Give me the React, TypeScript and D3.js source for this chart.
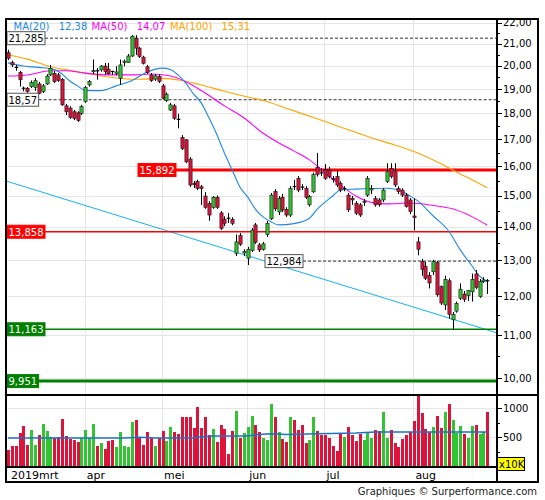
import React from 'react';
import * as d3 from 'd3';

// koersen (dagelijks, 4 mrt - 28 aug 2019)
const opens = [
  20.61, 20.16, 19.95, 19.73, 19.05, 19.05, 19.12, 19.09, 19.23, 18.91, 19.23, 19.62, 19.69, 19.62, 19.43, 18.32, 18.23, 18.08, 18.04, 18.02,
  18.49, 19.19, 19.76, 19.8, 19.84, 20.01, 19.87, 19.77, 19.68, 19.48, 20.17, 20.16, 20.46, 21.28, 20.82, 20.41, 19.98, 19.62, 19.44, 19.55,
  19.15, 18.53, 18.15, 18.32, 17.78, 17.08, 16.99, 16.28, 15.43, 15.49, 15.31, 15.0, 14.76, 14.63, 14.96, 14.45, 14.24, 14.28, 14.24, 13.21,
  13.74, 13.22, 13.07, 13.3, 14.07, 13.46, 13.33, 13.77, 14.26, 15.15, 14.48, 14.96, 14.56, 14.38, 15.32, 15.6, 15.3, 15.25, 14.71, 15.14,
  15.98, 15.79, 15.91, 15.89, 15.6, 15.66, 15.43, 15.22, 15.03, 14.92, 14.76, 14.71, 14.78, 15.03, 15.2, 14.92, 14.87, 14.87, 15.49, 15.95,
  15.83, 15.25, 15.2, 15.03, 14.87, 14.35, 13.55, 12.97, 12.83, 12.58, 12.68, 12.94, 12.27, 11.78, 12.43, 11.4, 11.62, 11.96, 12.07, 12.03,
  12.13, 12.62, 12.0, 12.41, 12.43,
];
const highs = [
  20.74, 20.25, 20.06, 19.8, 19.12, 19.1, 19.38, 19.48, 19.32, 19.23, 19.65, 20.06, 19.79, 19.7, 19.48, 18.4, 18.3, 18.15, 18.1, 18.36,
  19.15, 19.4, 20.3, 19.92, 20.06, 20.15, 20.15, 19.8, 20.0, 20.3, 20.3, 20.55, 21.43, 21.43, 20.88, 20.47, 20.06, 19.7, 19.66, 19.64,
  19.23, 18.87, 18.44, 18.4, 18.0, 17.17, 17.02, 16.35, 15.51, 15.55, 15.37, 15.13, 14.83, 15.0, 15.02, 14.51, 14.34, 14.45, 14.31, 13.77,
  13.82, 13.33, 13.4, 13.97, 14.13, 13.52, 13.55, 14.19, 15.1, 15.23, 15.0, 15.07, 14.63, 15.33, 15.55, 15.68, 15.4, 15.33, 15.03, 15.8,
  16.5, 15.95, 16.1, 16.0, 15.68, 15.89, 15.5, 15.33, 15.1, 15.0, 14.83, 14.77, 14.9, 15.68, 15.37, 15.0, 14.93, 15.26, 16.13, 16.13,
  16.13, 15.33, 15.26, 15.1, 14.93, 14.92, 13.7, 13.05, 12.96, 12.67, 13.02, 12.99, 12.3, 12.57, 12.5, 11.6, 11.87, 12.36, 12.15, 12.18,
  12.63, 12.73, 12.48, 12.53, 12.48,
];
const lows = [
  20.28, 19.96, 19.8, 19.12, 18.92, 18.86, 19.06, 18.94, 18.8, 18.85, 19.19, 19.57, 19.27, 19.32, 18.32, 17.95, 17.8, 17.75, 17.68, 17.95,
  18.44, 19.12, 19.66, 19.41, 19.76, 19.62, 19.62, 19.62, 19.6, 19.19, 20.0, 20.15, 20.41, 20.51, 20.37, 20.08, 19.66, 19.32, 19.36, 19.27,
  18.58, 18.48, 18.11, 17.76, 17.43, 16.61, 16.13, 15.3, 15.27, 15.2, 14.7, 14.58, 14.2, 14.58, 14.58, 13.91, 14.03, 14.13, 14.06, 13.13,
  13.43, 13.13, 12.87, 13.25, 13.49, 13.25, 13.29, 13.7, 14.22, 14.51, 14.38, 14.48, 14.32, 14.32, 15.2, 15.13, 15.2, 14.9, 14.65, 15.1,
  15.66, 15.68, 15.55, 15.6, 15.45, 15.3, 15.13, 15.16, 14.48, 14.71, 14.38, 14.32, 14.68, 14.97, 15.07, 14.65, 14.65, 14.8, 15.44, 15.6,
  15.3, 15.07, 14.97, 14.62, 14.41, 13.9, 13.15, 12.57, 12.45, 12.22, 12.59, 12.0, 11.78, 11.65, 11.43, 11.16, 11.58, 11.91, 11.86, 11.89,
  11.87, 12.2, 11.97, 12.37, 12.07,
];
const closes = [
  20.36, 20.06, 19.93, 19.41, 19.0, 18.91, 19.29, 19.37, 18.84, 19.15, 19.57, 19.91, 19.33, 19.38, 18.36, 18.08, 17.86, 17.82, 17.73, 18.29,
  19.09, 19.33, 19.82, 19.78, 20.01, 19.77, 19.67, 19.72, 19.75, 20.06, 20.23, 20.46, 21.38, 20.82, 20.44, 20.13, 19.72, 19.38, 19.58, 19.34,
  18.63, 18.8, 18.36, 17.82, 17.74, 16.67, 16.18, 15.37, 15.38, 15.26, 15.25, 14.63, 14.38, 14.96, 14.63, 13.96, 14.12, 14.25, 14.12, 13.55,
  13.48, 13.27, 13.33, 13.91, 13.54, 13.31, 13.49, 14.12, 15.03, 14.58, 14.92, 14.54, 14.38, 15.26, 15.28, 15.2, 15.27, 14.96, 14.98, 15.73,
  15.74, 15.75, 15.6, 15.66, 15.55, 15.37, 15.2, 15.25, 14.55, 14.87, 14.44, 14.38, 14.82, 15.6, 15.25, 14.71, 14.71, 15.2, 15.83, 15.66,
  15.37, 15.15, 15.03, 14.66, 14.49, 14.3, 13.33, 12.75, 12.5, 12.37, 12.97, 12.05, 11.83, 12.47, 11.54, 11.54, 11.82, 12.2, 11.93, 12.16,
  12.47, 12.25, 12.41, 12.45, 12.4,
];
// volume in x10K
const volumes = [
  298, 361, 361, 574, 695, 379, 626, 379, 540, 729, 609, 505, 494, 505, 821, 522, 476, 453, 419, 494,
  626, 494, 729, 367, 413, 316, 436, 453, 350, 591, 367, 339, 764, 804, 505, 384, 591, 494, 367, 494,
  609, 442, 678, 591, 563, 850, 850, 850, 660, 1022, 660, 850, 540, 649, 419, 712, 649, 229, 609, 953,
  488, 574, 678, 867, 712, 591, 488, 453, 1074, 850, 591, 471, 425, 850, 798, 626, 724, 402, 453, 850,
  609, 540, 540, 494, 367, 281, 580, 505, 678, 551, 436, 557, 453, 580, 488, 637, 609, 942, 488, 626,
  407, 350, 471, 540, 597, 780, 1218, 919, 649, 591, 678, 867, 666, 936, 1074, 804, 580, 700, 557, 494,
  700, 712, 563, 591, 936,
];

const ma20: [number, number][] = [
  [0, 20.15], [4, 20.01], [8, 19.95], [12, 19.86], [14, 19.66], [16, 19.36], [18, 19.15], [20, 18.96], [24, 18.95],
  [28, 19.15], [32, 19.37], [36, 19.75], [40, 19.92], [42, 19.86], [44, 19.62], [46, 19.27], [48, 18.81], [50, 18.44],
  [52, 17.84], [54, 17.2], [56, 16.5], [58, 15.89], [60, 15.3], [62, 14.97], [64, 14.57], [66, 14.32], [68, 14.17],
  [70, 14.07], [74, 14.11], [78, 14.28], [80, 14.57], [84, 15.0], [86, 15.2], [90, 15.23], [94, 15.25], [98, 15.26],
  [101, 15.2], [104, 15.0], [106, 14.84], [110, 14.35], [114, 13.88], [117, 13.31], [120, 12.85], [122, 12.56], [124, 12.41],
];
const ma50: [number, number][] = [
  [0, 19.57], [5, 19.62], [11, 19.8], [15, 19.8], [20, 19.7], [26, 19.62], [33, 19.62], [37, 19.66], [42, 19.57],
  [46, 19.33], [51, 18.85], [56, 18.32], [61, 17.84], [66, 17.24], [70, 16.88], [74, 16.57], [78, 16.25], [82, 15.8],
  [86, 15.37], [90, 15.0], [94, 14.79], [98, 14.74], [104, 14.77], [110, 14.69], [115, 14.58], [120, 14.33], [124, 14.06],
];
const ma100: [number, number][] = [
  [0, 20.52], [5, 20.32], [11, 19.98], [16, 19.82], [20, 19.7], [26, 19.53], [33, 19.43], [40, 19.47], [45, 19.38],
  [50, 19.19], [56, 18.92], [62, 18.68], [67, 18.5], [72, 18.22], [80, 17.8], [86, 17.48], [94, 17.07], [100, 16.8],
  [106, 16.5], [112, 16.11], [116, 15.82], [120, 15.55], [124, 15.28],
];
const volMA: [number, number][] = [
  [0, 494], [30, 494], [34, 510], [38, 494], [48, 494], [49, 510], [53, 528], [62, 528], [64, 551], [68, 568],
  [72, 557], [80, 570], [90, 580], [95, 597], [124, 597],
];
const trendLine: [number, number][] = [[-0.3, 15.5], [126.6, 11.07]];

const maLegend = [
  { name: 'MA(20)', value: '12,38', color: '#1e88e5' },
  { name: 'MA(50)', value: '14,07', color: '#ff00ff' },
  { name: 'MA(100)', value: '15,31', color: '#ffa500' },
];

const monthTicks = [
  { i: 0, label: '2019mrt' }, { i: 20, label: 'apr' }, { i: 40, label: 'mei' },
  { i: 62, label: 'jun' }, { i: 82, label: 'jul' }, { i: 105, label: 'aug' },
];

const levelValues = [21.285, 18.57, 15.892, 13.858, 12.984, 11.163, 9.951];
const levelLabels = ['21,285', '18,57', '15,892', '13,858', '12,984', '11,163', '9,951'];

const priceTicks = d3.range(10, 23);
const volTicks = [500, 1000];

const W = 545;
const H = 500;
const L = 6;
const R = 497;
const OUT_R = 538;
const TOP = 19;
const P_BOT = 395;
const V_BOT = 467;
const D_BOT = 482;

const RED = '#dc143c';
const GREEN = '#33c433';
const GRID = '#e6e6e6';
const FONT = 'DejaVu Sans, Verdana, sans-serif';

// stijl per niveau, zelfde volgorde als levelValues
const levelStyles = [
  { kind: 'dash', boxX: 7 },
  { kind: 'dash', boxX: 7 },
  { kind: 'red', boxX: 138, width: 3 },
  { kind: 'red', boxX: 7, width: 1.5 },
  { kind: 'dash', boxX: 265 },
  { kind: 'green', boxX: 7, width: 1.5 },
  { kind: 'green', boxX: 7, width: 3 },
];

const locale = d3.formatLocale({ decimal: ',', thousands: '.', grouping: [3], currency: ['', ''] });
const fmt2 = locale.format('.2f');

const textW = (s: string) => s.split('').reduce((a, ch) => a + (ch === ',' ? 3.2 : 6.36), 0);

const App: React.FC = () => {
  const x = d3.scaleLinear().domain([-0.5, 126.5]).range([L, R]);
  const y = d3.scaleLog().domain([9.649, 22.21]).range([P_BOT, TOP]);
  const v = d3.scaleLinear().domain([0, 1230]).range([V_BOT, P_BOT]);

  const line = d3.line<[number, number]>()
    .x(d => x(d[0]))
    .y(d => y(d[1]))
    .curve(d3.curveMonotoneX);
  const volLine = d3.line<[number, number]>()
    .x(d => x(d[0]))
    .y(d => v(d[1]));

  const minorTicks = d3.range(10, 22.01, 0.5).filter(t => t % 1 !== 0);
  const volMinor = [250, 750];

  return (
    <div style={{ position: 'absolute', left: 0, top: 0 }}>
      <svg width={W} height={H} style={{ display: 'block', background: '#fff' }} fontFamily={FONT}>
        <defs>
          <clipPath id="priceClip">
            <rect x={L} y={TOP} width={R - L} height={P_BOT - TOP} />
          </clipPath>
        </defs>

        {/* rasterlijnen */}
        <g stroke={GRID} strokeWidth={1} shapeRendering="crispEdges">
          {priceTicks.map(t => (
            <line key={'hg' + t} x1={L} x2={R} y1={y(t)} y2={y(t)} />
          ))}
          {volTicks.map(t => (
            <line key={'vg' + t} x1={L} x2={R} y1={v(t)} y2={v(t)} />
          ))}
          {monthTicks.filter(m => m.i > 0).map(m => (
            <line key={'mg' + m.i} x1={x(m.i)} x2={x(m.i)} y1={TOP} y2={V_BOT} />
          ))}
        </g>

        <g clipPath="url(#priceClip)">
          {/* trendlijn */}
          <path d={line.curve(d3.curveLinear)(trendLine) || ''} fill="none" stroke="#14b4f0" strokeWidth={1} />

          {/* horizontale niveaus */}
          {levelValues.map((lv, k) => {
            const st = levelStyles[k];
            const yy = y(lv);
            const bw = textW(levelLabels[k]) + 3;
            const stroke = st.kind === 'red' ? '#ff0000' : st.kind === 'green' ? '#008000' : '#333';
            return (
              <g key={'lv' + k}>
                <line
                  x1={st.boxX + bw} x2={R} y1={yy} y2={yy}
                  stroke={stroke}
                  strokeWidth={st.kind === 'dash' ? 1 : st.width}
                  strokeDasharray={st.kind === 'dash' ? '3,2' : undefined}
                />
              </g>
            );
          })}

          {/* MA-lijnen */}
          <path d={line.curve(d3.curveMonotoneX)(ma100) || ''} fill="none" stroke="#ffa500" strokeWidth={1.1} />
          <path d={line(ma50) || ''} fill="none" stroke="#ff00ff" strokeWidth={1.1} />
          <path d={line(ma20) || ''} fill="none" stroke="#1e88e5" strokeWidth={1.1} />

          {/* candlesticks */}
          {closes.map((c, i) => {
            const o = opens[i];
            const up = c >= o;
            const cx = Math.round(x(i)) + 0.5;
            const yTop = y(Math.max(o, c));
            const yBot = y(Math.min(o, c));
            const hgt = yBot - yTop;
            return (
              <g key={'c' + i}>
                <line x1={cx} x2={cx} y1={y(highs[i])} y2={y(lows[i])} stroke="#000" strokeWidth={1} />
                {hgt < 1.2 ? (
                  <line x1={cx - 1.8} x2={cx + 1.8} y1={yTop} y2={yTop} stroke="#000" strokeWidth={1.2} />
                ) : (
                  <rect x={cx - 1.6} y={yTop} width={3.2} height={hgt}
                    fill={up ? GREEN : RED} stroke="#111" strokeWidth={0.6} />
                )}
              </g>
            );
          })}

          {/* labels bij niveaus */}
          {levelValues.map((lv, k) => {
            const st = levelStyles[k];
            const yy = y(lv);
            const bw = textW(levelLabels[k]) + 3;
            const fill = st.kind === 'red' ? '#ff0000' : st.kind === 'green' ? '#008000' : '#fff';
            const tc = st.kind === 'dash' ? '#000' : '#fff';
            return (
              <g key={'lb' + k}>
                <rect x={st.boxX} y={yy - 6.5} width={bw} height={13}
                  fill={fill} stroke={st.kind === 'dash' ? '#555' : fill} strokeWidth={1} />
                <text x={st.boxX + 1.5} y={yy + 4} fontSize={10} fill={tc}>{levelLabels[k]}</text>
              </g>
            );
          })}
        </g>

        {/* volume */}
        <g>
          {volumes.map((vol, i) => {
            const up = closes[i] >= opens[i];
            const cx = Math.round(x(i)) + 0.5;
            return (
              <rect key={'v' + i} x={cx - 1.5} y={v(vol)} width={3} height={V_BOT - v(vol)}
                fill={up ? GREEN : RED} shapeRendering="crispEdges" />
            );
          })}
          <path d={volLine(volMA) || ''} fill="none" stroke="#1a73c8" strokeWidth={1.5} />
        </g>

        {/* legenda */}
        <g fontSize={10}>
          {maLegend.map((m, k) => {
            const xs = [13.5, 91.5, 170][k];
            return (
              <g key={m.name}>
                <text x={xs} y={30} fill={m.color}>{m.name}</text>
                <text x={xs + textW(m.name) + 7} y={30} fill={m.color}>{m.value}</text>
              </g>
            );
          })}
        </g>

        {/* kaders */}
        <g stroke="#000" strokeWidth={1} fill="none" shapeRendering="crispEdges">
          <rect x={L} y={TOP} width={OUT_R - L} height={D_BOT - TOP} strokeWidth={1.5} />
          <line x1={L} x2={OUT_R} y1={P_BOT} y2={P_BOT} strokeWidth={1.5} />
          <line x1={L} x2={R} y1={V_BOT} y2={V_BOT} strokeWidth={1.5} />
          <line x1={R} x2={R} y1={TOP} y2={D_BOT} strokeWidth={1.5} />
        </g>

        {/* koersas rechts */}
        <g shapeRendering="crispEdges" stroke="#000">
          {priceTicks.map(t => (
            <line key={'pt' + t} x1={R} x2={R + 5} y1={y(t)} y2={y(t)} />
          ))}
          {minorTicks.map(t => (
            <line key={'pm' + t} x1={R} x2={R + 3} y1={y(t)} y2={y(t)} />
          ))}
          {volTicks.map(t => (
            <line key={'vt' + t} x1={R} x2={R + 5} y1={v(t)} y2={v(t)} />
          ))}
          {volMinor.map(t => (
            <line key={'vm' + t} x1={R} x2={R + 3} y1={v(t)} y2={v(t)} />
          ))}
        </g>
        <svg x={R} y={TOP + 0.8} width={OUT_R - R} height={P_BOT - TOP - 1}>
          {priceTicks.map(t => (
            <text key={'pl' + t} x={6} y={y(t) - TOP + 2.3} fontSize={10} fill="#000">{fmt2(t)}</text>
          ))}
        </svg>
        {volTicks.map(t => (
          <text key={'vl' + t} x={R + 6} y={v(t) + 3.6} fontSize={10} fill="#000">{t}</text>
        ))}
        <rect x={R + 0.5} y={457.5} width={27} height={13} fill="#ffff00" stroke="#000" strokeWidth={1} />
        <text x={R + 2} y={468} fontSize={10} fill="#000">x10K</text>

        {/* datum-as */}
        {monthTicks.map(m => (
          <text key={'ml' + m.i} x={m.i === 0 ? 11 : x(m.i) + 1.5} y={478.5} fontSize={11} fill="#000">{m.label}</text>
        ))}

        <text x={537} y={495} fontSize={10} textAnchor="end" fill="#222">Graphiques © Surperformance.com</text>
      </svg>
    </div>
  );
};

export default App;
